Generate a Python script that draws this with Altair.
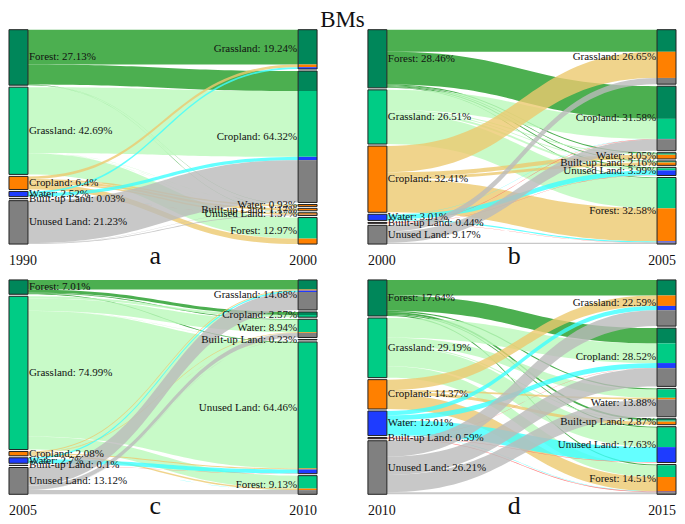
import altair as alt
import numpy as np
import pandas as pd

# ---------------- data ----------------
CLASSES = ["Forest", "Grassland", "Cropland", "Water", "Built-up Land", "Unused Land"]
RIGHT_ORDER = ["Grassland", "Cropland", "Water", "Built-up Land", "Unused Land", "Forest"]

TITLE = "BMs"
PANELS = ["a", "b", "c", "d"]
YEARS_FROM = ["1990", "2000", "2005", "2010"]
YEARS_TO = ["2000", "2005", "2010", "2015"]

LEFT_PCT_A = [27.13, 42.69, 6.4, 2.52, 0.03, 21.23]
RIGHT_PCT_A = [19.24, 64.32, 0.93, 1.17, 1.37, 12.97]
LEFT_PCT_B = [28.46, 26.51, 32.41, 3.01, 0.44, 9.17]
RIGHT_PCT_B = [26.65, 31.58, 3.05, 2.16, 3.99, 32.58]
LEFT_PCT_C = [7.01, 74.99, 2.08, 2.7, 0.1, 13.12]
RIGHT_PCT_C = [14.68, 2.57, 8.94, 0.23, 64.46, 9.13]
LEFT_PCT_D = [17.64, 29.19, 14.37, 12.01, 0.59, 26.21]
RIGHT_PCT_D = [22.59, 28.52, 13.88, 2.87, 17.63, 14.51]

# rows: source class (CLASSES order); columns: target node (RIGHT_ORDER order)
FLOWS_A = [
    [17.04, 9.80, 0.13, 0.02, 0.14, 0.00],
    [0.00, 32.20, 0.10, 0.02, 0.07, 10.30],
    [1.30, 0.00, 0.70, 1.00, 0.73, 2.67],
    [0.90, 1.60, 0.00, 0.00, 0.02, 0.00],
    [0.00, 0.00, 0.00, 0.00, 0.03, 0.00],
    [0.00, 20.72, 0.00, 0.13, 0.38, 0.00],
]
FLOWS_B = [
    [10.80, 16.00, 0.50, 0.36, 0.50, 0.30],
    [0.00, 9.81, 0.50, 0.40, 1.00, 14.80],
    [12.80, 0.00, 2.05, 1.40, 0.00, 16.16],
    [0.00, 0.11, 0.00, 0.00, 2.35, 0.55],
    [0.00, 0.20, 0.00, 0.00, 0.14, 0.10],
    [3.05, 5.46, 0.00, 0.00, 0.00, 0.66],
]
FLOWS_C = [
    [4.70, 1.50, 0.40, 0.00, 0.41, 0.00],
    [0.00, 1.07, 6.00, 0.10, 61.49, 6.33],
    [0.50, 0.00, 0.33, 0.05, 0.50, 0.70],
    [0.70, 0.00, 0.00, 0.00, 1.96, 0.04],
    [0.00, 0.00, 0.00, 0.00, 0.10, 0.00],
    [8.78, 0.00, 2.21, 0.08, 0.00, 2.05],
]
FLOWS_D = [
    [7.60, 7.50, 0.60, 0.90, 0.50, 0.54],
    [0.00, 9.60, 4.00, 0.50, 9.50, 5.59],
    [5.10, 0.00, 0.80, 1.50, 0.00, 6.97],
    [2.10, 2.40, 0.00, 0.00, 7.33, 0.18],
    [0.00, 0.10, 0.00, 0.00, 0.19, 0.30],
    [7.79, 8.92, 8.48, 0.00, 0.00, 1.02],
]

# ---------------- style ----------------
NODE_COLOR = {
    "Forest": "#00875A", "Grassland": "#00CC85", "Cropland": "#FF8000",
    "Water": "#1E3CFF", "Built-up Land": "#7A1414", "Unused Land": "#808080",
}
LINK_COLOR = {
    "Forest": "#1F9B24", "Grassland": "#BAF9BA", "Cropland": "#ECC96F",
    "Water": "#3DFFFF", "Built-up Land": "#FF6363", "Unused Land": "#BABABA",
}
FONT = "Liberation Serif"
W, H = 309, 215
COL_SP, ROW_SP = 51, 36
BW = 19 / W
GAP_PX = 2.0
TOT = 100 / (1 - 5 * GAP_PX / H)
GAP = GAP_PX * TOT / H


def build_panel(letter, y_from, y_to, left_pct, right_pct, flows, with_title=False):
    F = np.array(flows, dtype=float)
    lsize = F.sum(axis=1)
    rsize = F.sum(axis=0)
    ly0 = np.concatenate([[0.0], np.cumsum(lsize + GAP)[:-1]])
    ry0 = np.concatenate([[0.0], np.cumsum(rsize + GAP)[:-1]])
    dom = max(TOT, ly0[-1] + lsize[-1], ry0[-1] + rsize[-1])

    src_start, tgt_start = {}, {}
    for i in range(6):
        off = ly0[i]
        for j in range(6):
            if F[i, j] > 0:
                src_start[(i, j)] = off
                off += F[i, j]
    for j in range(6):
        off = ry0[j]
        for i in range(6):
            if F[i, j] > 0:
                tgt_start[(i, j)] = off
                off += F[i, j]

    u = np.linspace(0, 1, 41)
    xl, xr = BW, 1 - BW
    xs = xl + (xr - xl) * (1.5 * u * (1 - u) + u ** 3)
    sm = 3 * u ** 2 - 2 * u ** 3
    link_rows = []
    for (i, j), ys in sorted(src_start.items()):
        yt = tgt_start[(i, j)]
        v = F[i, j]
        top = ys + (yt - ys) * sm
        for k in range(len(u)):
            link_rows.append(dict(lid=f"{i}{j}", x=xs[k], y=top[k], y2=top[k] + v,
                                  col=LINK_COLOR[CLASSES[i]]))
    links_df = pd.DataFrame(link_rows)

    seg_rows, out_rows, lab_l, lab_r = [], [], [], []
    for i, c in enumerate(CLASSES):
        seg_rows.append(dict(x0=0, x1=BW, y0=ly0[i], y1=ly0[i] + lsize[i], col=NODE_COLOR[c]))
        out_rows.append(dict(x0=0, x1=BW, y0=ly0[i], y1=ly0[i] + lsize[i]))
        lab_l.append(dict(x=BW, y=ly0[i] + lsize[i] / 2, t=f"{c}: {left_pct[i]:g}%"))
    for (i, j), ys in sorted(tgt_start.items(), key=lambda kv: kv[1]):
        seg_rows.append(dict(x0=1 - BW, x1=1, y0=ys, y1=ys + F[i, j], col=NODE_COLOR[CLASSES[i]]))
    for j, c in enumerate(RIGHT_ORDER):
        out_rows.append(dict(x0=1 - BW, x1=1, y0=ry0[j], y1=ry0[j] + rsize[j]))
        lab_r.append(dict(x=1 - BW, y=ry0[j] + rsize[j] / 2, t=f"{c}: {right_pct[j]:g}%"))

    xsc = alt.Scale(domain=[0, 1], nice=False, zero=False)
    ysc = alt.Scale(domain=[0, dom], nice=False, zero=False, reverse=True)
    X = lambda f: alt.X(f, scale=xsc, axis=None)
    Y = lambda f: alt.Y(f, scale=ysc, axis=None)

    links = alt.Chart(links_df).mark_area(opacity=0.8).encode(
        x=X("x:Q"), y=alt.Y("y:Q", scale=ysc, axis=None, stack=None), y2="y2:Q",
        detail="lid:N", color=alt.Color("col:N", scale=None),
    )
    segs = alt.Chart(pd.DataFrame(seg_rows)).mark_rect().encode(
        x=X("x0:Q"), x2="x1:Q", y=Y("y0:Q"), y2="y1:Q",
        color=alt.Color("col:N", scale=None),
    )
    outl = alt.Chart(pd.DataFrame(out_rows)).mark_rect(
        fillOpacity=0, stroke="#222222", strokeWidth=1).encode(
        x=X("x0:Q"), x2="x1:Q", y=Y("y0:Q"), y2="y1:Q",
    )
    tl = alt.Chart(pd.DataFrame(lab_l)).mark_text(
        align="left", baseline="middle", dx=1, font=FONT, fontSize=11, color="#111111").encode(
        x=X("x:Q"), y=Y("y:Q"), text="t:N")
    tr = alt.Chart(pd.DataFrame(lab_r)).mark_text(
        align="right", baseline="middle", dx=-1, font=FONT, fontSize=11, color="#111111").encode(
        x=X("x:Q"), y=Y("y:Q"), text="t:N")
    yl = alt.Chart(pd.DataFrame({"x": [0], "t": [y_from]})).mark_text(
        align="left", baseline="middle", font=FONT, fontSize=14, color="#111111").encode(
        x=X("x:Q"), y=alt.value(H + 17), text="t:N")
    yrt = alt.Chart(pd.DataFrame({"x": [1], "t": [y_to]})).mark_text(
        align="right", baseline="middle", font=FONT, fontSize=14, color="#111111").encode(
        x=X("x:Q"), y=alt.value(H + 17), text="t:N")
    let = alt.Chart(pd.DataFrame({"x": [0.475], "t": [letter]})).mark_text(
        align="center", baseline="alphabetic", font=FONT, fontSize=26, color="#111111").encode(
        x=X("x:Q"), y=alt.value(H + 20), text="t:N")
    layers = [links, segs, outl, tl, tr, yl, yrt, let]
    if with_title:
        tt = alt.Chart(pd.DataFrame({"x": [(2 * W + COL_SP) / (2 * W)], "t": [TITLE]})).mark_text(
            align="center", baseline="alphabetic", font=FONT, fontSize=23, color="#111111").encode(
            x=X("x:Q"), y=alt.value(-3), text="t:N")
        layers.append(tt)
    return alt.layer(*layers).properties(width=W, height=H)


panels = [
    build_panel("a", YEARS_FROM[0], YEARS_TO[0], LEFT_PCT_A, RIGHT_PCT_A, FLOWS_A, with_title=True),
    build_panel("b", YEARS_FROM[1], YEARS_TO[1], LEFT_PCT_B, RIGHT_PCT_B, FLOWS_B),
    build_panel("c", YEARS_FROM[2], YEARS_TO[2], LEFT_PCT_C, RIGHT_PCT_C, FLOWS_C),
    build_panel("d", YEARS_FROM[3], YEARS_TO[3], LEFT_PCT_D, RIGHT_PCT_D, FLOWS_D),
]

chart = alt.concat(*panels, columns=2, spacing={"row": ROW_SP, "column": COL_SP},
                   bounds="flush").properties(padding=0).configure_view(stroke=None)

chart.save("out.html", embed_options={"renderer": "svg", "actions": False})
